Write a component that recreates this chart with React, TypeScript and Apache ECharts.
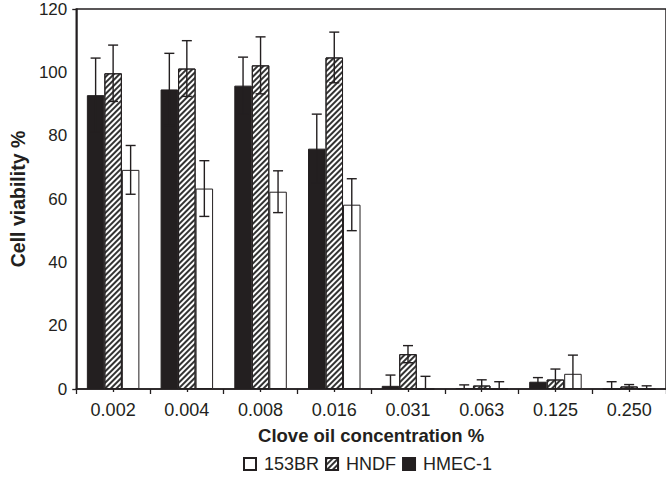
import React, { useEffect, useRef } from "react";
import * as echarts from "echarts";

const categories = ["0.002", "0.004", "0.008", "0.016", "0.031", "0.063", "0.125", "0.250"];
const seriesNames = ["HMEC-1", "HNDF", "153BR"];
const hmecValues = [92.8, 94.6, 95.8, 75.9, 1.0, 0.3, 2.3, 0];
const hmecErrors = [11.7, 11.4, 9.0, 10.9, 3.4, 1.0, 1.3, 2.3];
const hndfValues = [99.7, 101.2, 102.2, 104.7, 11.0, 1.1, 3.0, 0.8];
const hndfErrors = [8.9, 8.8, 9.0, 8.0, 2.7, 1.8, 3.3, 0.6];
const br153Values = [69.2, 63.3, 62.3, 58.2, 0, 0, 4.8, 0];
const br153Errors = [7.7, 8.8, 6.6, 8.2, 4.0, 2.3, 5.9, 1.0];
const legendOrder = ["153BR", "HNDF", "HMEC-1"];
const yTicks = { min: 0, max: 120, interval: 20 };

const FONT = "'Liberation Sans', Arial, Helvetica, sans-serif";
const INK = "#231f20";
const BAR_W = 17.5;

export default function App() {
  const ref = useRef<HTMLDivElement>(null);
  useEffect(() => {
    if (!ref.current) return;
    const chart = echarts.init(ref.current, null, { renderer: "svg" });

    const errSeries = (vals: number[], errs: number[], idx: number) => ({
      type: "custom",
      xAxisIndex: 0,
      yAxisIndex: 0,
      z: 5,
      silent: true,
      data: vals.map((v, i) => [i, v, errs[i]]),
      encode: { x: 0, y: 1 },
      renderItem: (params: any, api: any) => {
        const c = api.value(0);
        const v = api.value(1);
        const e = api.value(2);
        const top = api.coord([c, v + e]);
        const low = Math.max(0, v - e);
        const bot = api.coord([c, low]);
        const cx = top[0] + (idx - 1) * BAR_W;
        const cap = 5;
        const st = { stroke: INK, lineWidth: 1.4 };
        const children: any[] = [
          { type: "line", shape: { x1: cx, y1: top[1], x2: cx, y2: bot[1] }, style: st },
          { type: "line", shape: { x1: cx - cap, y1: top[1], x2: cx + cap, y2: top[1] }, style: st },
        ];
        if (low > 0) {
          children.push({ type: "line", shape: { x1: cx - cap, y1: bot[1], x2: cx + cap, y2: bot[1] }, style: st });
        }
        return { type: "group", children };
      },
    });

    const option: any = {
      animation: false,
      backgroundColor: "#fff",
      textStyle: { fontFamily: FONT, color: INK },
      grid: {
        left: 64,
        top: 9,
        width: 604,
        height: 380,
        show: true,
        borderColor: INK,
        borderWidth: 1.5,
        backgroundColor: "transparent",
      },
      legend: {
        data: legendOrder,
        icon: "rect",
        left: 238,
        top: 450,
        itemWidth: 12,
        itemHeight: 12,
        itemGap: 6,
        textStyle: { fontFamily: FONT, fontSize: 18, color: INK, padding: [0, 0, 0, 3] },
      },
      xAxis: [
        {
          type: "category",
          data: categories,
          name: "Clove oil concentration %",
          nameLocation: "middle",
          nameGap: 37,
          nameTextStyle: { fontFamily: FONT, fontSize: 18.5, fontWeight: "bold", color: INK },
          axisLine: { lineStyle: { color: INK, width: 1.5 } },
          axisTick: { show: true, length: 5, lineStyle: { color: INK, width: 1.3 } },
          axisLabel: { fontFamily: FONT, fontSize: 18, color: INK, margin: 12 },
          splitLine: { show: false },
        },
        {
          type: "category",
          data: categories,
          position: "bottom",
          axisLine: { show: false },
          axisTick: { show: true, alignWithLabel: true, length: 3, lineStyle: { color: INK, width: 1.3 } },
          axisLabel: { show: false },
          splitLine: { show: false },
        },
      ],
      yAxis: [
        {
          type: "value",
          min: yTicks.min,
          max: yTicks.max,
          interval: yTicks.interval,
          name: "Cell viability %",
          nameLocation: "middle",
          nameGap: 33,
          nameTextStyle: { fontFamily: FONT, fontSize: 19.5, fontWeight: "bold", color: INK },
          axisLine: { show: true, lineStyle: { color: INK, width: 1.5 } },
          axisTick: { show: false },
          axisLabel: { fontFamily: FONT, fontSize: 17, color: INK, margin: 9 },
          splitLine: { show: false },
        },
        {
          type: "value",
          min: yTicks.min,
          max: yTicks.max,
          interval: yTicks.max,
          position: "left",
          axisLine: { show: false },
          axisTick: { show: true, length: 4, lineStyle: { color: INK, width: 1.3 } },
          axisLabel: { show: false },
          splitLine: { show: false },
        },
      ],
      series: [
        {
          name: seriesNames[0],
          type: "bar",
          data: hmecValues,
          barWidth: BAR_W,
          barGap: "0%",
          itemStyle: { color: INK, borderColor: INK, borderWidth: 1 },
        },
        {
          name: seriesNames[1],
          type: "bar",
          data: hndfValues,
          barWidth: BAR_W,
          barGap: "0%",
          itemStyle: {
            color: "#ffffff",
            borderColor: INK,
            borderWidth: 1,
            decal: {
              symbol: "rect",
              color: "#333333",
              backgroundColor: "#ffffff",
              dashArrayX: [1, 0],
              dashArrayY: [2, 1.8],
              rotation: -Math.PI / 4,
            },
          },
        },
        {
          name: seriesNames[2],
          type: "bar",
          data: br153Values,
          barWidth: BAR_W,
          barGap: "0%",
          itemStyle: { color: "#ffffff", borderColor: INK, borderWidth: 1 },
        },
        errSeries(hmecValues, hmecErrors, 0),
        errSeries(hndfValues, hndfErrors, 1),
        errSeries(br153Values, br153Errors, 2),
      ],
    };
    chart.setOption(option);
    return () => chart.dispose();
  }, []);

  return (
    <div
      ref={ref}
      style={{ position: "absolute", left: 0, top: 0, width: 666, height: 483, overflow: "hidden" }}
    />
  );
}
